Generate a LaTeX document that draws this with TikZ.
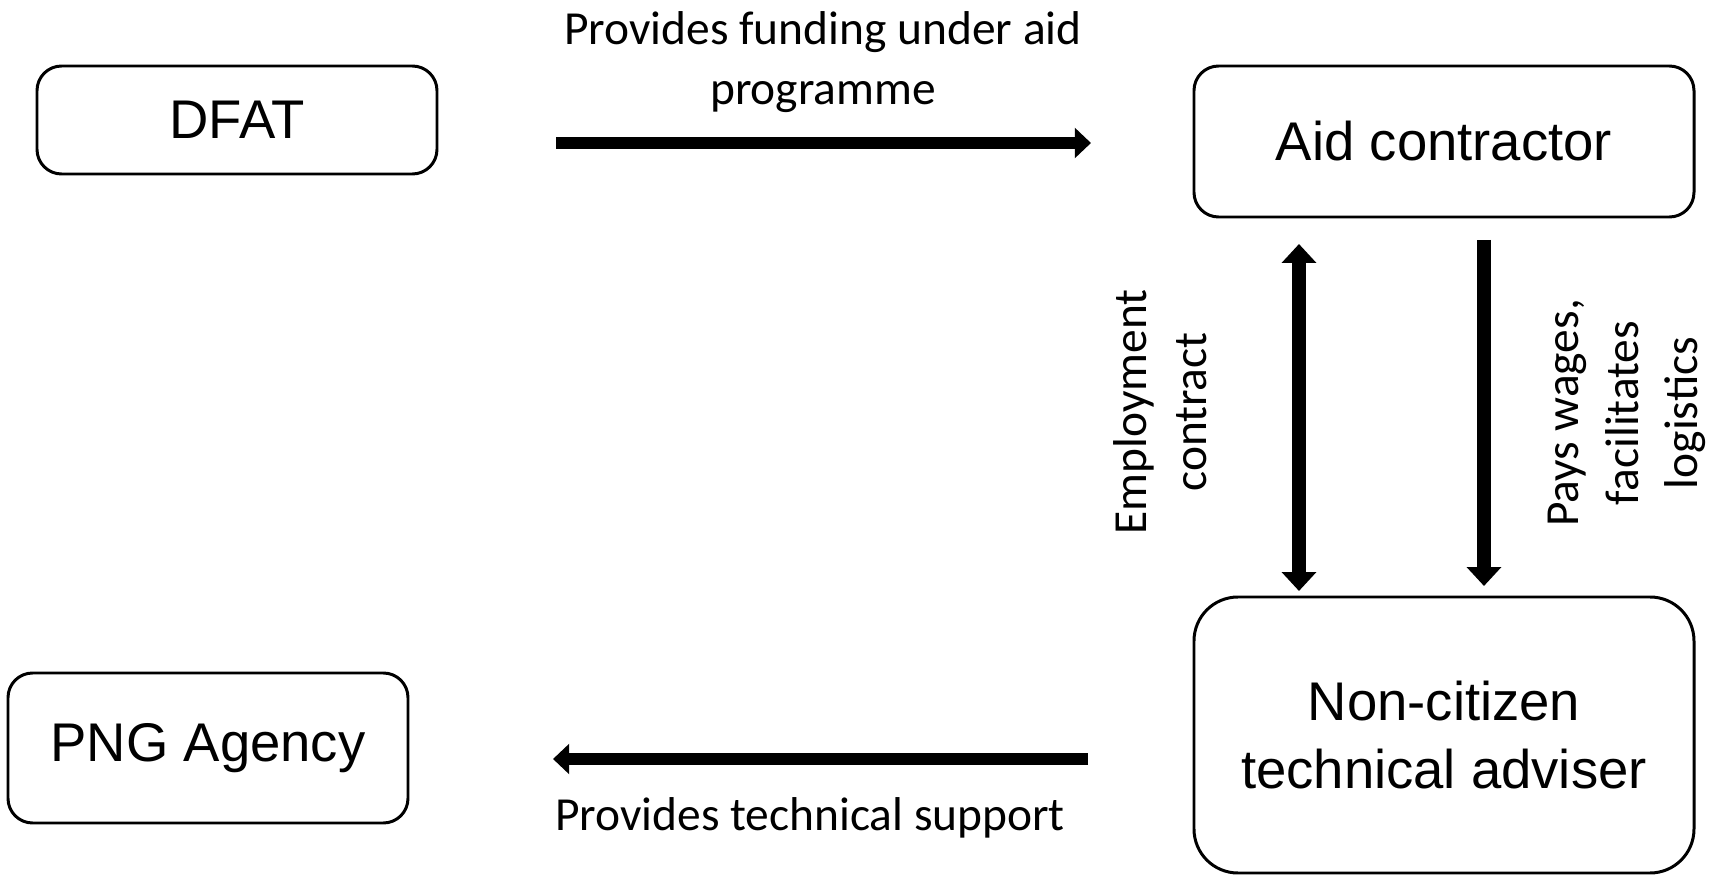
\documentclass[tikz,border=0pt]{standalone}
\usepackage{fontspec}
\setmainfont{Carlito}
\newfontfamily\boxfont{Liberation Sans}
\usetikzlibrary{arrows.meta}
\tikzset{
  party/.style={draw, line width=0.85pt, rounded corners=7pt, align=center,
    font=\boxfont\fontsize{15.5}{19.5}\selectfont, inner sep=0pt},
  flow/.style={line width=3.6pt, -{Triangle[length=4.6pt,width=8.4pt]}},
  upright/.style={line width=4pt, -{Triangle[length=5.4pt,width=9.6pt]}},
  flowlabel/.style={align=center, font=\fontsize{13.5}{17}\selectfont, inner sep=0pt}
}
\begin{document}
\begin{tikzpicture}
\useasboundingbox (0,0) rectangle (17.25,-8.75);
\node[party, minimum width=4.00cm, minimum height=1.08cm] (dfat) at (2.37,-1.20) {DFAT};
\node[party, minimum width=5.00cm, minimum height=1.51cm] (aid) at (14.44,-1.415) {Aid contractor};
\node[party, minimum width=5.00cm, minimum height=2.76cm, rounded corners=12.5pt] (adviser) at (14.44,-7.35) {Non-citizen\\technical adviser};
\node[party, minimum width=4.00cm, minimum height=1.50cm] (png) at (2.08,-7.48) {PNG Agency};
% arrow ends
\coordinate (fundA) at (5.56,-1.43);
\coordinate (fundB) at (10.91,-1.43);
\coordinate (suppA) at (10.88,-7.59);
\coordinate (suppB) at (5.53,-7.59);
\coordinate (empA) at (12.99,-2.44);
\coordinate (empB) at (12.99,-5.91);
\coordinate (payA) at (14.84,-2.40);
\coordinate (payB) at (14.84,-5.86);
\draw[flow] (fundA) -- (fundB);
\draw[flow] (suppA) -- (suppB);
\draw[upright, {Triangle[length=5.4pt,width=9.6pt]}-{Triangle[length=5.4pt,width=9.6pt]}] (empA) -- (empB);
\draw[upright] (payA) -- (payB);
% labels
\node[flowlabel] (fundlbl) at (8.23,-0.62) {Provides funding under aid\\programme};
\node[flowlabel] (supplbl) at (8.10,-8.18) {Provides technical support};
\node[flowlabel, rotate=90] (emplbl) at (11.60,-4.12) {Employment\\contract};
\node[flowlabel, rotate=90] (paylbl) at (16.27,-4.13) {Pays wages,\\facilitates\\logistics};
\end{tikzpicture}
\end{document}
